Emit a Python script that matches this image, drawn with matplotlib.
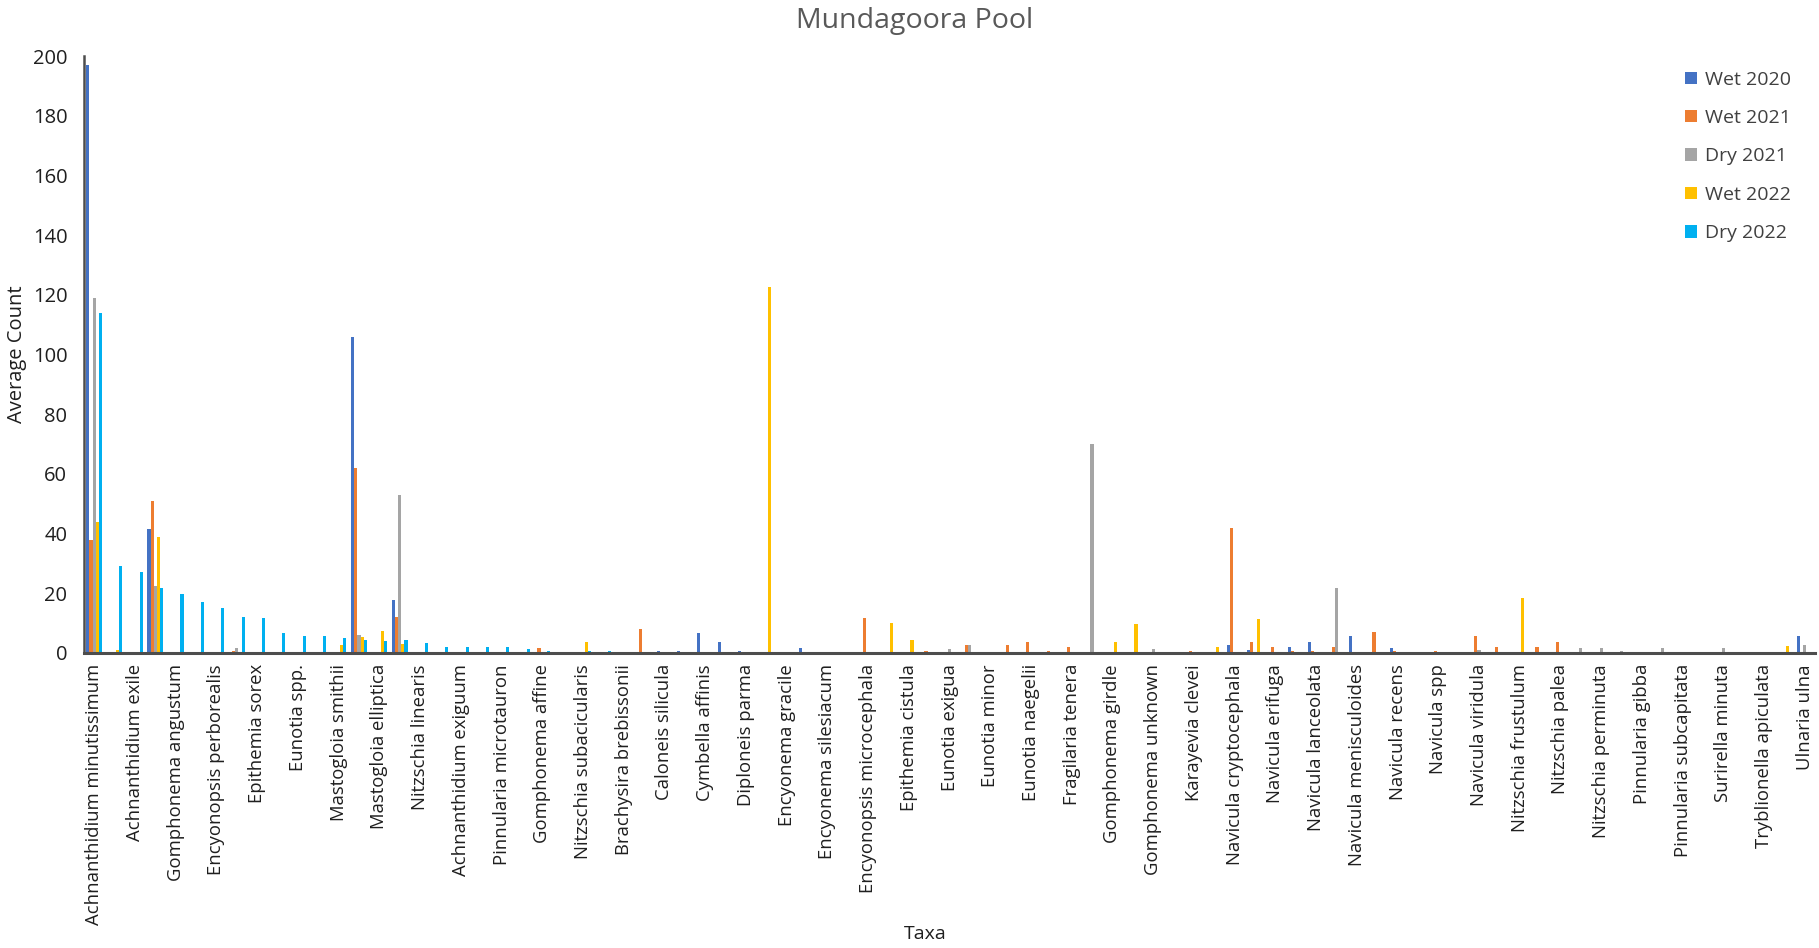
import matplotlib
matplotlib.use("Agg")
import matplotlib.pyplot as plt
import numpy as np

plt.rcParams['font.family'] = ['Open Sans', 'DejaVu Sans']

# 85 taxa on the axis, only every second one gets a label (as in the original)
shown_labels = [
    "Achnanthidium minutissimum", "Achnanthidium exile", "Gomphonema angustum",
    "Encyonopsis perborealis", "Epithemia sorex", "Eunotia spp.", "Mastogloia smithii",
    "Mastogloia elliptica", "Nitzschia linearis", "Achnanthidium exiguum",
    "Pinnularia microtauron", "Gomphonema affine", "Nitzschia subacicularis",
    "Brachysira brebissonii", "Caloneis silicula", "Cymbella affinis", "Diploneis parma",
    "Encyonema gracile", "Encyonema silesiacum", "Encyonopsis microcephala",
    "Epithemia cistula", "Eunotia exigua", "Eunotia minor", "Eunotia naegelii",
    "Fragilaria tenera", "Gomphonema girdle", "Gomphonema unknown", "Karayevia clevei",
    "Navicula cryptocephala", "Navicula erifuga", "Navicula lanceolata",
    "Navicula menisculoides", "Navicula recens", "Navicula spp", "Navicula viridula",
    "Nitzschia frustulum", "Nitzschia palea", "Nitzschia perminuta", "Pinnularia gibba",
    "Pinnularia subcapitata", "Surirella minuta", "Tryblionella apiculata", "Ulnaria ulna",
]

series_names = ["Wet 2020", "Wet 2021", "Dry 2021", "Wet 2022", "Dry 2022"]
series_colors = ["#4472C4", "#ED7D31", "#A5A5A5", "#FFC000", "#00B0F0"]

wet2020 = [197, 0, 0, 41.7, 0, 0, 0, 0, 0, 0,
           0, 0, 0, 106, 0, 17.7, 0, 0, 0, 0,
           0, 0, 0, 0, 0, 0, 0, 0, 0.5, 0.5,
           6.8, 3.7, 0.5, 0, 0, 1.8, 0, 0, 0, 0,
           0, 0, 0, 0, 0, 0, 0, 0, 0, 0,
           0, 0, 0, 0, 0, 0, 2.8, 1, 0, 1.9,
           3.7, 0, 5.8, 0, 1.7, 0, 0, 0, 0, 0,
           0, 0, 0, 0, 0, 0, 0, 0, 0, 0,
           0, 0, 0, 0, 5.7]
wet2021 = [38, 0, 0, 50.8, 0, 0, 0, 0.8, 0, 0,
           0, 0, 0, 62, 0, 12, 0, 0, 0, 0,
           0, 0, 1.7, 0, 0, 0, 0, 7.9, 0, 0,
           0, 0, 0, 0, 0, 0, 0, 0, 11.8, 0,
           0, 0.5, 0, 2.7, 0, 2.7, 3.8, 0.5, 2, 0,
           0, 0, 0, 0, 0.6, 0, 42, 3.8, 1.9, 0.5,
           0.5, 1.9, 0, 6.9, 0.5, 0, 0.5, 0.4, 5.8, 1.9,
           0, 1.9, 3.7, 0, 0, 0, 0, 0, 0, 0,
           0, 0, 0, 0, 0]
dry2021 = [119, 0, 0, 22.6, 0, 0, 0, 1.8, 0, 0,
           0, 0, 0, 5.9, 0, 52.9, 0, 0, 0, 0,
           0, 0, 0, 0, 0, 0, 0, 0, 0, 0,
           0, 0, 0, 0, 0, 0, 0.3, 0, 0, 0,
           0, 0, 1.5, 2.7, 0.3, 0, 0, 0, 0, 70,
           0, 0, 1.5, 0, 0, 0, 0, 0, 0, 0,
           0, 21.8, 0, 0, 0, 0.3, 0, 0, 1.1, 0,
           0, 0, 0, 1.6, 1.6, 0.5, 0.4, 1.6, 0.3, 0,
           1.6, 0, 0, 0, 2.6]
wet2022 = [44, 1, 0, 38.9, 0, 0, 0, 0, 0, 0,
           0, 0, 2.8, 5.3, 7.5, 3, 0, 0, 0, 0,
           0, 0, 0, 0, 3.8, 0, 0.3, 0, 0, 0,
           0, 0, 0, 122.5, 0, 0, 0, 0, 0, 10.2,
           4.3, 0, 0, 0, 0, 0, 0, 0, 0, 0,
           3.7, 9.6, 0, 0, 0, 2, 0, 11.5, 0, 0,
           0, 0, 0, 0, 0, 0, 0, 0, 0, 0,
           18.3, 0, 0, 0, 0, 0, 0, 0, 0, 0,
           0, 0.3, 0.3, 2.3, 0]
dry2022 = [114, 29.3, 27, 21.7, 19.8, 17.2, 15.2, 12.2, 11.7, 6.8,
           5.7, 5.7, 4.9, 4.2, 4, 4.3, 3.4, 1.9, 1.9, 1.9,
           1.9, 1.3, 0.5, 0.4, 0.5, 0.5, 0, 0, 0, 0,
           0, 0, 0, 0, 0, 0, 0, 0, 0, 0,
           0, 0, 0, 0, 0, 0, 0, 0, 0, 0,
           0, 0, 0, 0, 0, 0, 0, 0, 0, 0,
           0, 0, 0, 0, 0, 0, 0, 0, 0, 0,
           0, 0, 0, 0, 0, 0, 0, 0, 0, 0,
           0, 0, 0, 0, 0]

all_series = [wet2020, wet2021, dry2021, wet2022, dry2022]

n = len(wet2020)
x = np.arange(n)
tick_labels = []
for i in range(n):
    if i % 2 == 0:
        tick_labels.append(shown_labels[i // 2])
    else:
        tick_labels.append("")

fig = plt.figure(figsize=(18.19, 9.48), dpi=100)
ax = fig.add_axes([0.0462, 0.3112, 0.9516, 0.6297])

w = 0.155
for j, vals in enumerate(all_series):
    ax.bar(x + (j - 2) * w, vals, width=w, color=series_colors[j], label=series_names[j])

ax.set_xlim(-0.5, n - 0.5)
ax.set_ylim(0, 200)
ax.set_yticks(np.arange(0, 201, 20))
ax.set_xticks(x)
ax.set_xticklabels(tick_labels, rotation=90, fontsize=13.3, color="#1f1f1f")
ax.tick_params(axis="y", labelsize=14.5, labelcolor="#1f1f1f", length=0, pad=12)
ax.tick_params(axis="x", length=0, pad=8)

for s in ["top", "right"]:
    ax.spines[s].set_visible(False)
ax.spines["bottom"].set_color("#4d4d4d")
ax.spines["bottom"].set_linewidth(2.2)
ax.spines["left"].set_color("#4d4d4d")
ax.spines["left"].set_linewidth(1.8)

ax.set_ylabel("Average Count", fontsize=14.5, color="#1f1f1f", va="center")
ax.yaxis.set_label_coords(-0.0385, 0.5)
ax.set_xlabel("Taxa", fontsize=14, color="#1f1f1f", va="center")
ax.xaxis.set_label_coords(0.486, -0.471)

fig.text(0.503, 0.978, "Mundagoora Pool", ha="center", va="center",
         fontsize=20.5, color="#595959")

leg = ax.legend(loc="upper left", bbox_to_anchor=(0.915, 1.005), frameon=False,
                fontsize=14, labelspacing=1.05, handlelength=0.6, handleheight=0.6,
                handletextpad=0.4, labelcolor="#404040")

fig.savefig("out.png", dpi=100)
